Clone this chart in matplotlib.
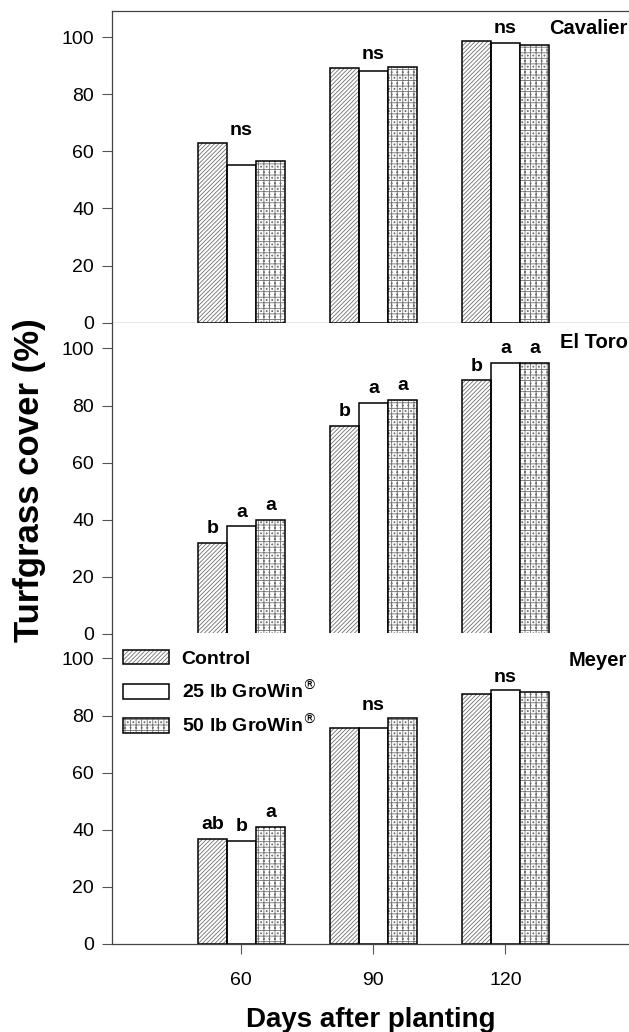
import matplotlib.pyplot as plt
from matplotlib.patches import Patch
import numpy as np

plt.rcParams['font.family'] = ['Liberation Sans', 'DejaVu Sans']
plt.rcParams['hatch.linewidth'] = 0.6

days = [60, 90, 120]
treatments = ["Control", "25 lb GroWin$^{\\circledR}$", "50 lb GroWin$^{\\circledR}$"]
cultivars = ["Cavalier", "El Toro", "Meyer"]

# rows = treatments, columns = days
cavalier = [[63.0, 89.2, 98.5], [55.3, 88.3, 98.0], [56.6, 89.5, 97.4]]
el_toro = [[32.0, 72.8, 88.8], [37.7, 80.9, 94.9], [40.0, 81.9, 94.9]]
meyer = [[36.7, 75.6, 87.7], [36.1, 75.8, 88.9], [40.9, 79.2, 88.3]]
cover = {"Cavalier": cavalier, "El Toro": el_toro, "Meyer": meyer}

# one label per day (over the middle bar) or one per bar
letters = {
    "Cavalier": [["ns"], ["ns"], ["ns"]],
    "El Toro": [["b", "a", "a"], ["b", "a", "a"], ["b", "a", "a"]],
    "Meyer": [["ab", "b", "a"], ["ns"], ["ns"]],
}

hatches = ["////////", None, "+++..."]
width = 6.6
offsets = [-width, 0, width]

fig = plt.figure(figsize=(6.29, 10.32), dpi=100)
bottoms = [0.6873, 0.3857, 0.0853]
h = 0.3016
name_y = [0.944, 0.936, 0.912]
x = np.array(days, dtype=float)

for k, cv in enumerate(cultivars):
    ax = fig.add_axes([0.178, bottoms[k], 0.822, h])
    for t in range(3):
        vals = cover[cv][t]
        if hatches[t]:
            ax.bar(x + offsets[t], vals, width, color="white", hatch=hatches[t],
                   edgecolor="#707070", linewidth=0)
        ax.bar(x + offsets[t], vals, width, color="none", edgecolor="black",
               linewidth=1.1)
    for d in range(3):
        labs = letters[cv][d]
        if len(labs) == 1:
            top = max(cover[cv][t][d] for t in range(3))
            ax.text(x[d], top + 1.5, labs[0], ha="center", va="bottom",
                    fontsize=14, fontweight="bold")
        else:
            for t in range(3):
                ax.text(x[d] + offsets[t], cover[cv][t][d] + 2, labs[t],
                        ha="center", va="bottom", fontsize=14, fontweight="bold")
    ax.text(0.997, name_y[k], cv, transform=ax.transAxes,
            ha="right", va="center", fontsize=14.5, fontweight="bold")
    ax.set_xlim(30.6, 148.1)
    ax.set_ylim(0, 109)
    ax.set_yticks([0, 20, 40, 60, 80, 100])
    ax.tick_params(axis="y", labelsize=14, length=7, width=0.8, pad=6,
                   direction="out", color="#555555")
    ax.spines["right"].set_visible(False)
    if k > 0:
        ax.spines["top"].set_visible(False)
    if k < 2:
        ax.set_xticks([])
    else:
        ax.set_xticks(days)
        ax.tick_params(axis="x", labelsize=14, length=7, width=0.8, pad=13,
                       direction="out", color="#555555")
        ax.set_xlabel("Days after planting", fontsize=20, fontweight="bold", labelpad=13)
        handles = []
        for t in range(3):
            if hatches[t]:
                fill = Patch(facecolor="white", edgecolor="#707070", hatch=hatches[t],
                             linewidth=0)
                handles.append((fill, Patch(facecolor="none", edgecolor="black",
                                            linewidth=1.1)))
            else:
                handles.append(Patch(facecolor="white", edgecolor="black", linewidth=1.1))
        ax.legend(handles, treatments, loc="upper left",
                  bbox_to_anchor=(0.021, 0.945), borderaxespad=0, borderpad=0,
                  frameon=False, prop={"size": 14, "weight": "bold"},
                  handlelength=2.4, handleheight=0.77, labelspacing=0.62,
                  handletextpad=0.62)
    for sp in ax.spines.values():
        sp.set_linewidth(0.9)
        sp.set_color("#444444")

fig.text(0.047, 0.535, "Turfgrass cover (%)", rotation=90, ha="center", va="center",
         fontsize=25, fontweight="bold")

fig.savefig("out.png", dpi=100)
